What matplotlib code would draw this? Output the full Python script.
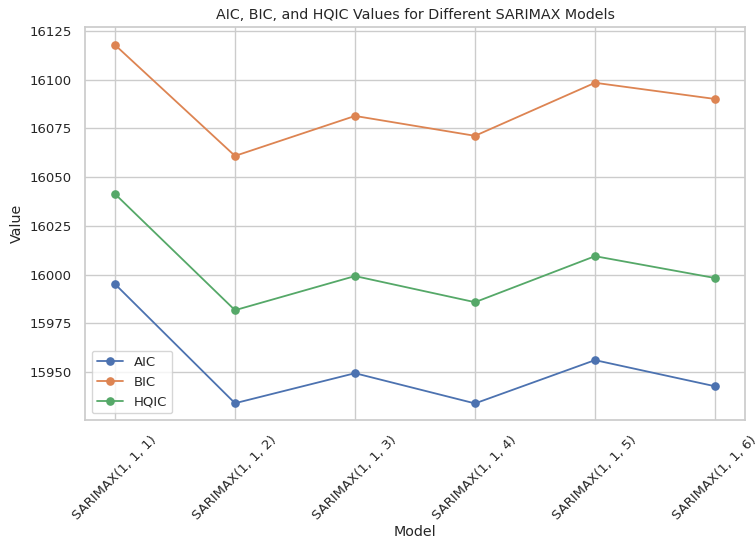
import matplotlib
matplotlib.use("Agg")
import matplotlib.pyplot as plt
import seaborn as sns

sns.set_theme(style="whitegrid")

models = ['SARIMAX(1, 1, 1)', 'SARIMAX(1, 1, 2)', 'SARIMAX(1, 1, 3)',
          'SARIMAX(1, 1, 4)', 'SARIMAX(1, 1, 5)', 'SARIMAX(1, 1, 6)']
aic = [15995.2, 15934.1, 15949.5, 15934.0, 15956.2, 15942.8]
bic = [16117.8, 16060.9, 16081.4, 16071.2, 16098.4, 16090.1]
hqic = [16041.4, 15981.8, 15999.3, 15985.9, 16009.5, 15998.3]

fig = plt.figure(figsize=(7.56, 5.37), dpi=100)
ax = fig.add_axes([85 / 756, 1 - 420 / 537, 660 / 756, 393 / 537])

for vals, lab in [(aic, 'AIC'), (bic, 'BIC'), (hqic, 'HQIC')]:
    ax.plot(models, vals, marker='o', markersize=5.2, linewidth=1.3, label=lab)

ax.set_title('AIC, BIC, and HQIC Values for Different SARIMAX Models', fontsize=10.3)
ax.set_xlabel('Model', fontsize=10.3, labelpad=2)
ax.set_ylabel('Value', fontsize=10.3)
ax.set_yticks([15950, 15975, 16000, 16025, 16050, 16075, 16100, 16125])
ax.set_ylim(15925.5, 16127)
ax.tick_params(labelsize=9.5)
plt.setp(ax.get_xticklabels(), rotation=45)
ax.legend(loc='lower left', fontsize=9.5)

fig.savefig('out.png', dpi=100)
